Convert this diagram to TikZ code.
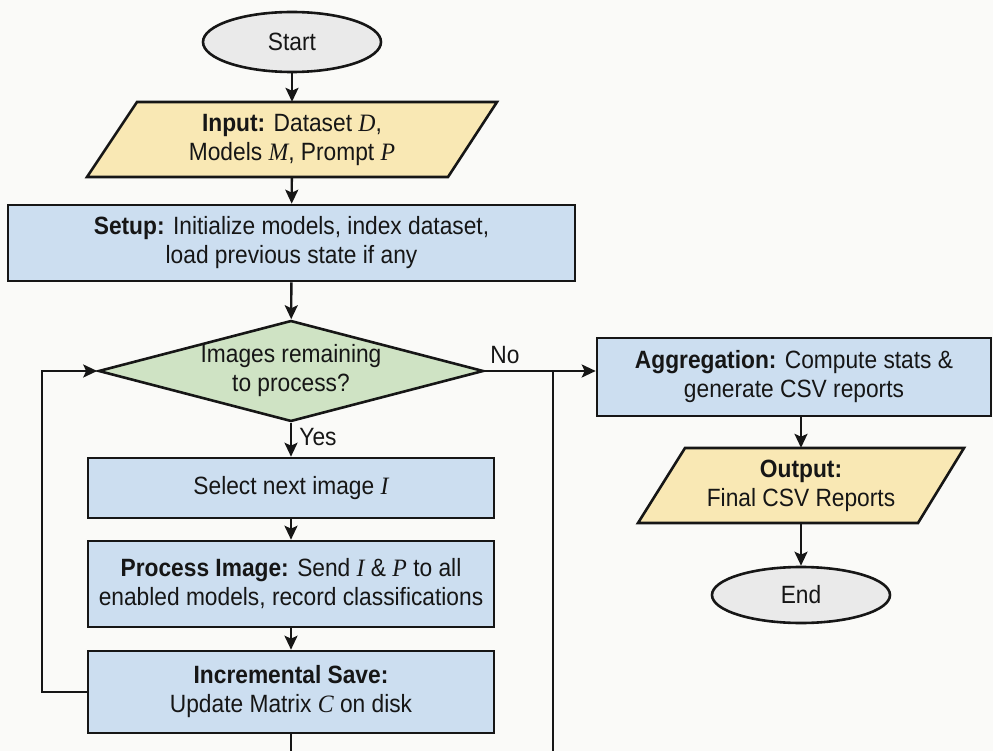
\documentclass[tikz,border=0pt]{standalone}
\usepackage{fontspec}
\setmainfont{Liberation Sans}[FakeStretch=0.91]
\newfontfamily\varfont{Liberation Serif}[FakeStretch=0.95]
\newcommand{\vv}[1]{{\varfont\itshape #1}}
\usetikzlibrary{shapes.geometric, arrows.meta, calc}

\definecolor{pagebg}{HTML}{FAFAF8}
\definecolor{procblue}{HTML}{CCDEF0}
\definecolor{iogold}{HTML}{F9E8B4}
\definecolor{decgreen}{HTML}{CFE3C4}
\definecolor{termgrey}{HTML}{EAEAEA}
\definecolor{ink}{HTML}{161616}

\tikzset{
  txt/.style={font=\fontsize{25}{29}\selectfont, align=center, text=ink},
  base/.style={txt, draw=ink, line width=2.6pt},
  proc/.style={base, rectangle, fill=procblue, inner sep=0pt},
  term/.style={base, ellipse, fill=termgrey, inner sep=0pt},
  dec/.style={base, diamond, fill=decgreen, shape aspect=3.8, inner sep=0pt,
              minimum width=385pt, minimum height=101pt},
  iobox/.style={draw=ink, line width=2.6pt, fill=iogold, line join=miter},
  iotext/.style={txt, rectangle, inner sep=0pt},
  wire/.style={draw=ink, line width=2.4pt},
  flow/.style={wire, -{Stealth[length=14pt, width=13pt, inset=3pt]}},
  lbl/.style={txt, inner sep=0pt},
}

\begin{document}
\begin{tikzpicture}[x=1pt, y=-1pt]
  \useasboundingbox (0,0) rectangle (993,751);
  \fill[pagebg] (0,0) rectangle (993,751);

  % left column
  \node[term, minimum width=178pt, minimum height=60pt] (start) at (292,42) {Start};

  \draw[iobox] (87,177) -- (448,177) -- (497,102) -- (137,102) -- cycle;
  \node[iotext, minimum width=360pt, minimum height=75pt] (input) at (292,139.5)
    {\textbf{Input:} Dataset \vv{D},\\ Models \vv{M}, Prompt \vv{P}};

  \node[proc, minimum width=567pt, minimum height=76pt] (setup) at (291.5,243)
    {\textbf{Setup:} Initialize models, index dataset,\\ load previous state if any};

  \node[dec] (cond) at (291,371) {Images remaining\\ to process?};

  \node[proc, minimum width=406pt, minimum height=60pt] (select) at (291,488)
    {Select next image \vv{I}};

  \node[proc, minimum width=406pt, minimum height=86pt] (process) at (291,584)
    {\textbf{Process Image:} Send \vv{I} \& \vv{P} to all\\ enabled models, record classifications};

  \node[proc, minimum width=406pt, minimum height=82pt] (save) at (291,692)
    {\textbf{Incremental Save:}\\ Update Matrix \vv{C} on disk};

  % right column
  \node[proc, minimum width=394pt, minimum height=78pt] (agg) at (794,377)
    {\textbf{Aggregation:} Compute stats \&\\ generate CSV reports};

  \draw[iobox] (638,523) -- (918,523) -- (964,448) -- (685,448) -- cycle;
  \node[iotext, minimum width=280pt, minimum height=75pt] (out) at (801,485.5)
    {\textbf{Output:}\\ Final CSV Reports};

  \node[term, minimum width=178pt, minimum height=56pt] (end) at (801,595) {End};

  % helper points
  \coordinate (split) at (553,371);
  \coordinate (loopx) at (42,0);
  \coordinate (cutA) at (291,751);
  \coordinate (cutB) at (553,751);

  % connectors
  \draw[flow] (start) -- (input);
  \draw[flow] (input) -- (setup);
  \draw[flow] (setup) -- (cond);
  \draw[flow] (cond) -- (select);
  \draw[flow] (select) -- (process);
  \draw[flow] (process) -- (save);
  \draw[flow] (save.west) -- (save.west -| loopx) -- (cond.west -| loopx) -- (cond.west);
  \draw[wire] (save.south) -- (cutA);
  \draw[flow] (cond.east) -- (split) -- (split -| agg.west);
  \draw[wire] (split) -- (cutB);
  \draw[flow] (agg.south -| out.north) -- (out.north);
  \draw[flow] (out) -- (end);

  % branch labels
  \node[lbl] (nolbl) at (505,355) {No};
  \node[lbl] (yeslbl) at (318,437) {Yes};
\end{tikzpicture}
\end{document}
